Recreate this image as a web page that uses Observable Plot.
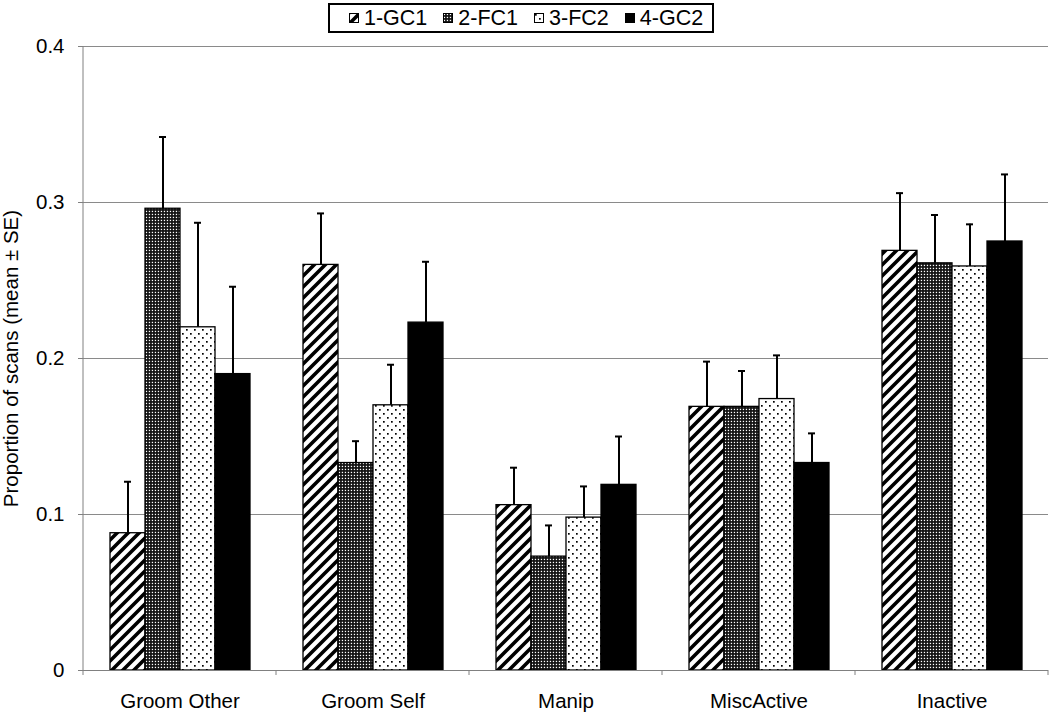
<!DOCTYPE html>
<html><head><meta charset="utf-8">
<script src="https://cdn.jsdelivr.net/npm/d3@7"></script>
<script src="https://cdn.jsdelivr.net/npm/@observablehq/plot@0.6"></script>
<style>
body{margin:0;background:#fff;font-family:"Liberation Sans",Arial,sans-serif;}
#wrap{position:relative;width:1050px;height:712px;}
#legend{position:absolute;left:328px;top:3px;width:363px;height:26px;border:2px solid #000;background:#fff;padding-left:19px;
  display:flex;align-items:center;justify-content:flex-start;gap:16px;font-size:21.5px;color:#000;z-index:2;}
#legend .item{display:flex;align-items:center;gap:5px;}
#legend svg{display:block;}
</style></head><body>
<div id="wrap"><div id="legend"></div></div>
<script>
const categories = ["Groom Other", "Groom Self", "Manip", "MiscActive", "Inactive"];
const seriesNames = ["1-GC1", "2-FC1", "3-FC2", "4-GC2"];
const meanGC1 = [0.088, 0.260, 0.106, 0.169, 0.269];
const meanFC1 = [0.296, 0.133, 0.073, 0.169, 0.261];
const meanFC2 = [0.220, 0.170, 0.098, 0.174, 0.259];
const meanGC2 = [0.190, 0.223, 0.119, 0.133, 0.275];
const seGC1 = [0.033, 0.033, 0.024, 0.029, 0.037];
const seFC1 = [0.046, 0.014, 0.020, 0.023, 0.031];
const seFC2 = [0.067, 0.026, 0.020, 0.028, 0.027];
const seGC2 = [0.056, 0.039, 0.031, 0.019, 0.043];
const yTicks = [0, 0.1, 0.2, 0.3, 0.4];

const means = [meanGC1, meanFC1, meanFC2, meanGC2];
const ses = [seGC1, seFC1, seFC2, seGC2];
const data = [];
categories.forEach((c, i) => seriesNames.forEach((s, j) =>
  data.push({category: c, series: s, mean: means[j][i], se: ses[j][i]})));

const patternFills = ["url(#pGC1)", "url(#pFC1)", "url(#pFC2)", "url(#pGC2)"];

const chart = Plot.plot({
  width: 1050, height: 712,
  marginLeft: 82, marginRight: 2, marginTop: 46, marginBottom: 42,
  style: {fontFamily: "'Liberation Sans', Arial, sans-serif", fontSize: "20px", background: "white", color: "#000"},
  fx: {domain: categories, padding: 0, axis: null},
  x: {domain: seriesNames, paddingInner: 0, paddingOuter: 0.735, axis: null},
  y: {domain: [0, 0.4]},
  color: {domain: seriesNames, range: patternFills},
  marks: [
    Plot.gridY(yTicks.slice(1), {stroke: "#8a8a8a", strokeOpacity: 1, strokeWidth: 1}),
    Plot.axisY({ticks: yTicks, tickFormat: d => d === 0 ? "0" : d.toFixed(1), tickSize: 5, tickPadding: 14,
      stroke: "#808080", fontSize: 20.5, label: "Proportion of scans (mean ± SE)", labelAnchor: "center",
      labelOffset: 80, labelArrow: "none"}),
    Plot.axisFx({anchor: "bottom", tickSize: 0, tickPadding: 23, label: null, fontSize: 20.5}),
    Plot.barY(data, {fx: "category", x: "series", y: "mean", fill: "series", stroke: "#000", strokeWidth: 1.3}),
    Plot.ruleX(data, {fx: "category", x: "series", y1: "mean", y2: d => d.mean + d.se, stroke: "#000", strokeWidth: 2}),
    Plot.tickY(data, {fx: "category", x: "series", y: d => d.mean + d.se, stroke: "#000", strokeWidth: 2, insetLeft: 14, insetRight: 14}),
    Plot.ruleY([0], {stroke: "#808080", strokeWidth: 1})
  ]
});

// pattern definitions
const svg = d3.select(chart);
const defs = svg.insert("defs", ":first-child");
const p1 = defs.append("pattern").attr("id", "pGC1").attr("patternUnits", "userSpaceOnUse").attr("width", 11).attr("height", 11);
p1.append("rect").attr("width", 11).attr("height", 11).attr("fill", "#fff");
p1.append("path").attr("d", "M-2.75,2.75L2.75,-2.75M0,11L11,0M8.25,13.75L13.75,8.25").attr("stroke", "#000").attr("stroke-width", 3.6);
const p2 = defs.append("pattern").attr("id", "pFC1").attr("patternUnits", "userSpaceOnUse").attr("width", 3).attr("height", 3);
p2.append("rect").attr("width", 3).attr("height", 3).attr("fill", "#111");
p2.append("rect").attr("x", 0.8).attr("y", 0.8).attr("width", 1.3).attr("height", 1.3).attr("fill", "#fff");
const p3 = defs.append("pattern").attr("id", "pFC2").attr("patternUnits", "userSpaceOnUse").attr("width", 8).attr("height", 8);
p3.append("rect").attr("width", 8).attr("height", 8).attr("fill", "#fff");
p3.append("rect").attr("x", 1).attr("y", 1).attr("width", 1.7).attr("height", 1.7).attr("fill", "#000");
p3.append("rect").attr("x", 5).attr("y", 5).attr("width", 1.7).attr("height", 1.7).attr("fill", "#000");
const p4 = defs.append("pattern").attr("id", "pGC2").attr("patternUnits", "userSpaceOnUse").attr("width", 4).attr("height", 4);
p4.append("rect").attr("width", 4).attr("height", 4).attr("fill", "#000");

// axis line and category boundary ticks from the plot's scales
const fxS = chart.scale("fx"), yS = chart.scale("y");
const bw = fxS.bandwidth;
const x0 = fxS.apply(categories[0]);
const yBase = yS.apply(0), yTop = yS.apply(0.4);
const deco = svg.append("g").attr("stroke", "#808080").attr("stroke-width", 1);
deco.append("line").attr("x1", x0).attr("x2", x0).attr("y1", yTop).attr("y2", yBase + 5);
categories.forEach(c => {
  const xe = fxS.apply(c) + bw;
  deco.append("line").attr("x1", xe).attr("x2", xe).attr("y1", yBase).attr("y2", yBase + 5);
});

document.getElementById("wrap").appendChild(chart);

// legend
const legend = d3.select("#legend");
seriesNames.forEach((s, j) => {
  const it = legend.append("div").attr("class", "item");
  const sw = it.append("svg").attr("width", 10).attr("height", 10);
  sw.append("rect").attr("x", 0.5).attr("y", 0.5).attr("width", 9).attr("height", 9)
    .attr("fill", patternFills[j]).attr("stroke", "#000").attr("stroke-width", 1);
  it.append("span").text(s);
});
</script>
</body></html>
